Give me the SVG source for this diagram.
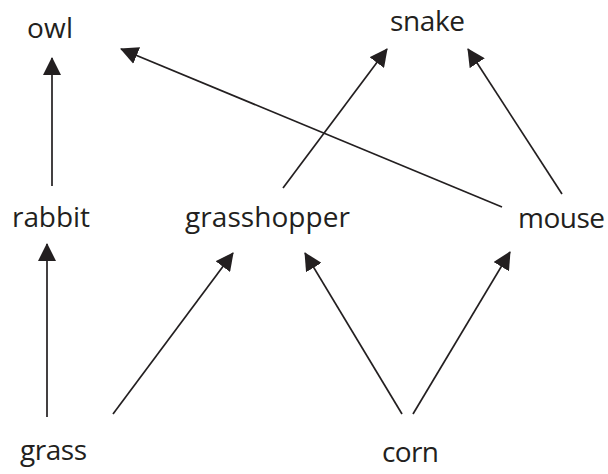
<svg xmlns="http://www.w3.org/2000/svg" width="608" height="474" viewBox="0 0 608 474">
<style>
text{font-family:"Open Sans","Noto Sans","Liberation Sans",sans-serif;font-size:28px;fill:#231f20}
.e{stroke:#231f20;stroke-width:1.7;fill:none;marker-end:url(#ah)}
</style>
<defs>
<marker id="ah" viewBox="0 0 18 18" refX="17" refY="9" markerWidth="18" markerHeight="18" markerUnits="userSpaceOnUse" orient="auto">
<path d="M0,0 L18,9 L0,18 z" fill="#231f20"/>
</marker>
</defs>
<rect width="608" height="474" fill="#fff"/>
<g id="owl"><text x="27" y="38" textLength="46">owl</text></g>
<g id="snake"><text x="390" y="31" textLength="75">snake</text></g>
<g id="rabbit"><text x="12" y="227" textLength="78">rabbit</text></g>
<g id="grasshopper"><text x="185" y="227" textLength="165">grasshopper</text></g>
<g id="mouse"><text x="518" y="228" textLength="87">mouse</text></g>
<g id="grass"><text x="20" y="460" textLength="67">grass</text></g>
<g id="corn"><text x="382" y="462" textLength="57">corn</text></g>
<g id="connectors">
<line class="e" x1="52" y1="186" x2="52" y2="58"/>
<line class="e" x1="47" y1="417" x2="47" y2="244"/>
<line class="e" x1="113" y1="414" x2="233" y2="253"/>
<line class="e" x1="402" y1="414" x2="305" y2="253"/>
<line class="e" x1="413" y1="414" x2="510" y2="252"/>
<line class="e" x1="283" y1="188" x2="387" y2="49"/>
<line class="e" x1="562" y1="194" x2="468" y2="49"/>
<line class="e" x1="502" y1="207" x2="121" y2="49"/>
</g>
</svg>
